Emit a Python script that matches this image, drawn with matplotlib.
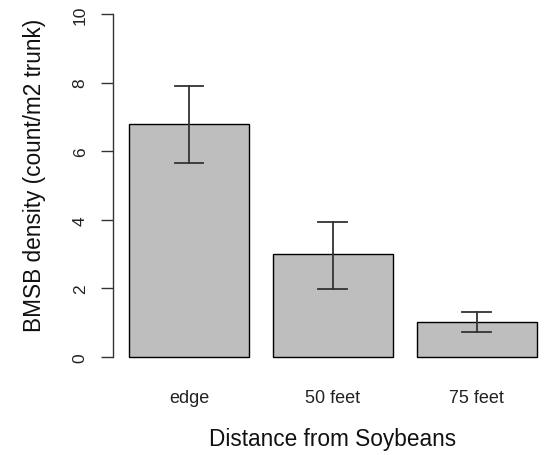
import matplotlib
matplotlib.use("Agg")
from matplotlib import pyplot as plt
import numpy as np

plt.rcParams['font.family'] = ['Liberation Sans', 'DejaVu Sans']

# data
categories = ['edge', '50 feet', '75 feet']
means = [6.8, 3.0, 1.02]
err_low = [5.65, 1.98, 0.73]
err_high = [7.9, 3.95, 1.31]
y_ticks = [0, 2, 4, 6, 8, 10]

W, H = 555, 456
fig = plt.figure(figsize=(W / 100, H / 100), dpi=100)

# R barplot geometry: width 1, space 0.2
x = 0.2 + np.arange(len(categories)) * 1.2 + 0.5
xlim = (0.064, 3.736)
ylim = (-0.4, 10.4)

left, right = 112.7 / W, 553 / W
bottom, top = (H - 371.7) / H, (H - 1.3) / H
ax = fig.add_axes([left, bottom, right - left, top - bottom])

ax.bar(x, means, width=1.0, color='#bebebe', edgecolor='black', linewidth=1.0)

# error bars
cap = 0.12
for xi, lo, hi in zip(x, err_low, err_high):
    ax.plot([xi, xi], [lo, hi], color='#333333', lw=1.3)
    ax.plot([xi - cap, xi + cap], [lo, lo], color='#333333', lw=1.3)
    ax.plot([xi - cap, xi + cap], [hi, hi], color='#333333', lw=1.3)

ax.set_xlim(*xlim)
ax.set_ylim(*ylim)

for s in ['top', 'right', 'bottom']:
    ax.spines[s].set_visible(False)
ax.spines['left'].set_bounds(0, 10)
ax.spines['left'].set_color('#333333')
ax.spines['left'].set_linewidth(1.0)

ax.set_yticks(y_ticks)
ax.set_yticklabels([str(t) for t in y_ticks], rotation=90, va='center',
                   fontsize=12.5, color='#222222')
ax.tick_params(axis='y', length=9, width=1.0, color='#333333', pad=9)

ax.set_xticks(x)
ax.set_xticklabels(categories, fontsize=13, color='#222222', va='center')
ax.tick_params(axis='x', length=0, pad=19)

fig.text(35 / W, 1 - 175 / H, 'BMSB density (count/m2 trunk)', rotation=90,
         ha='center', va='center', fontsize=16.3, color='#111111')
fig.text(((left + right) / 2), 1 - 440 / H, 'Distance from Soybeans',
         ha='center', va='center', fontsize=16.3, color='#111111')

fig.savefig('out.png', dpi=100)
